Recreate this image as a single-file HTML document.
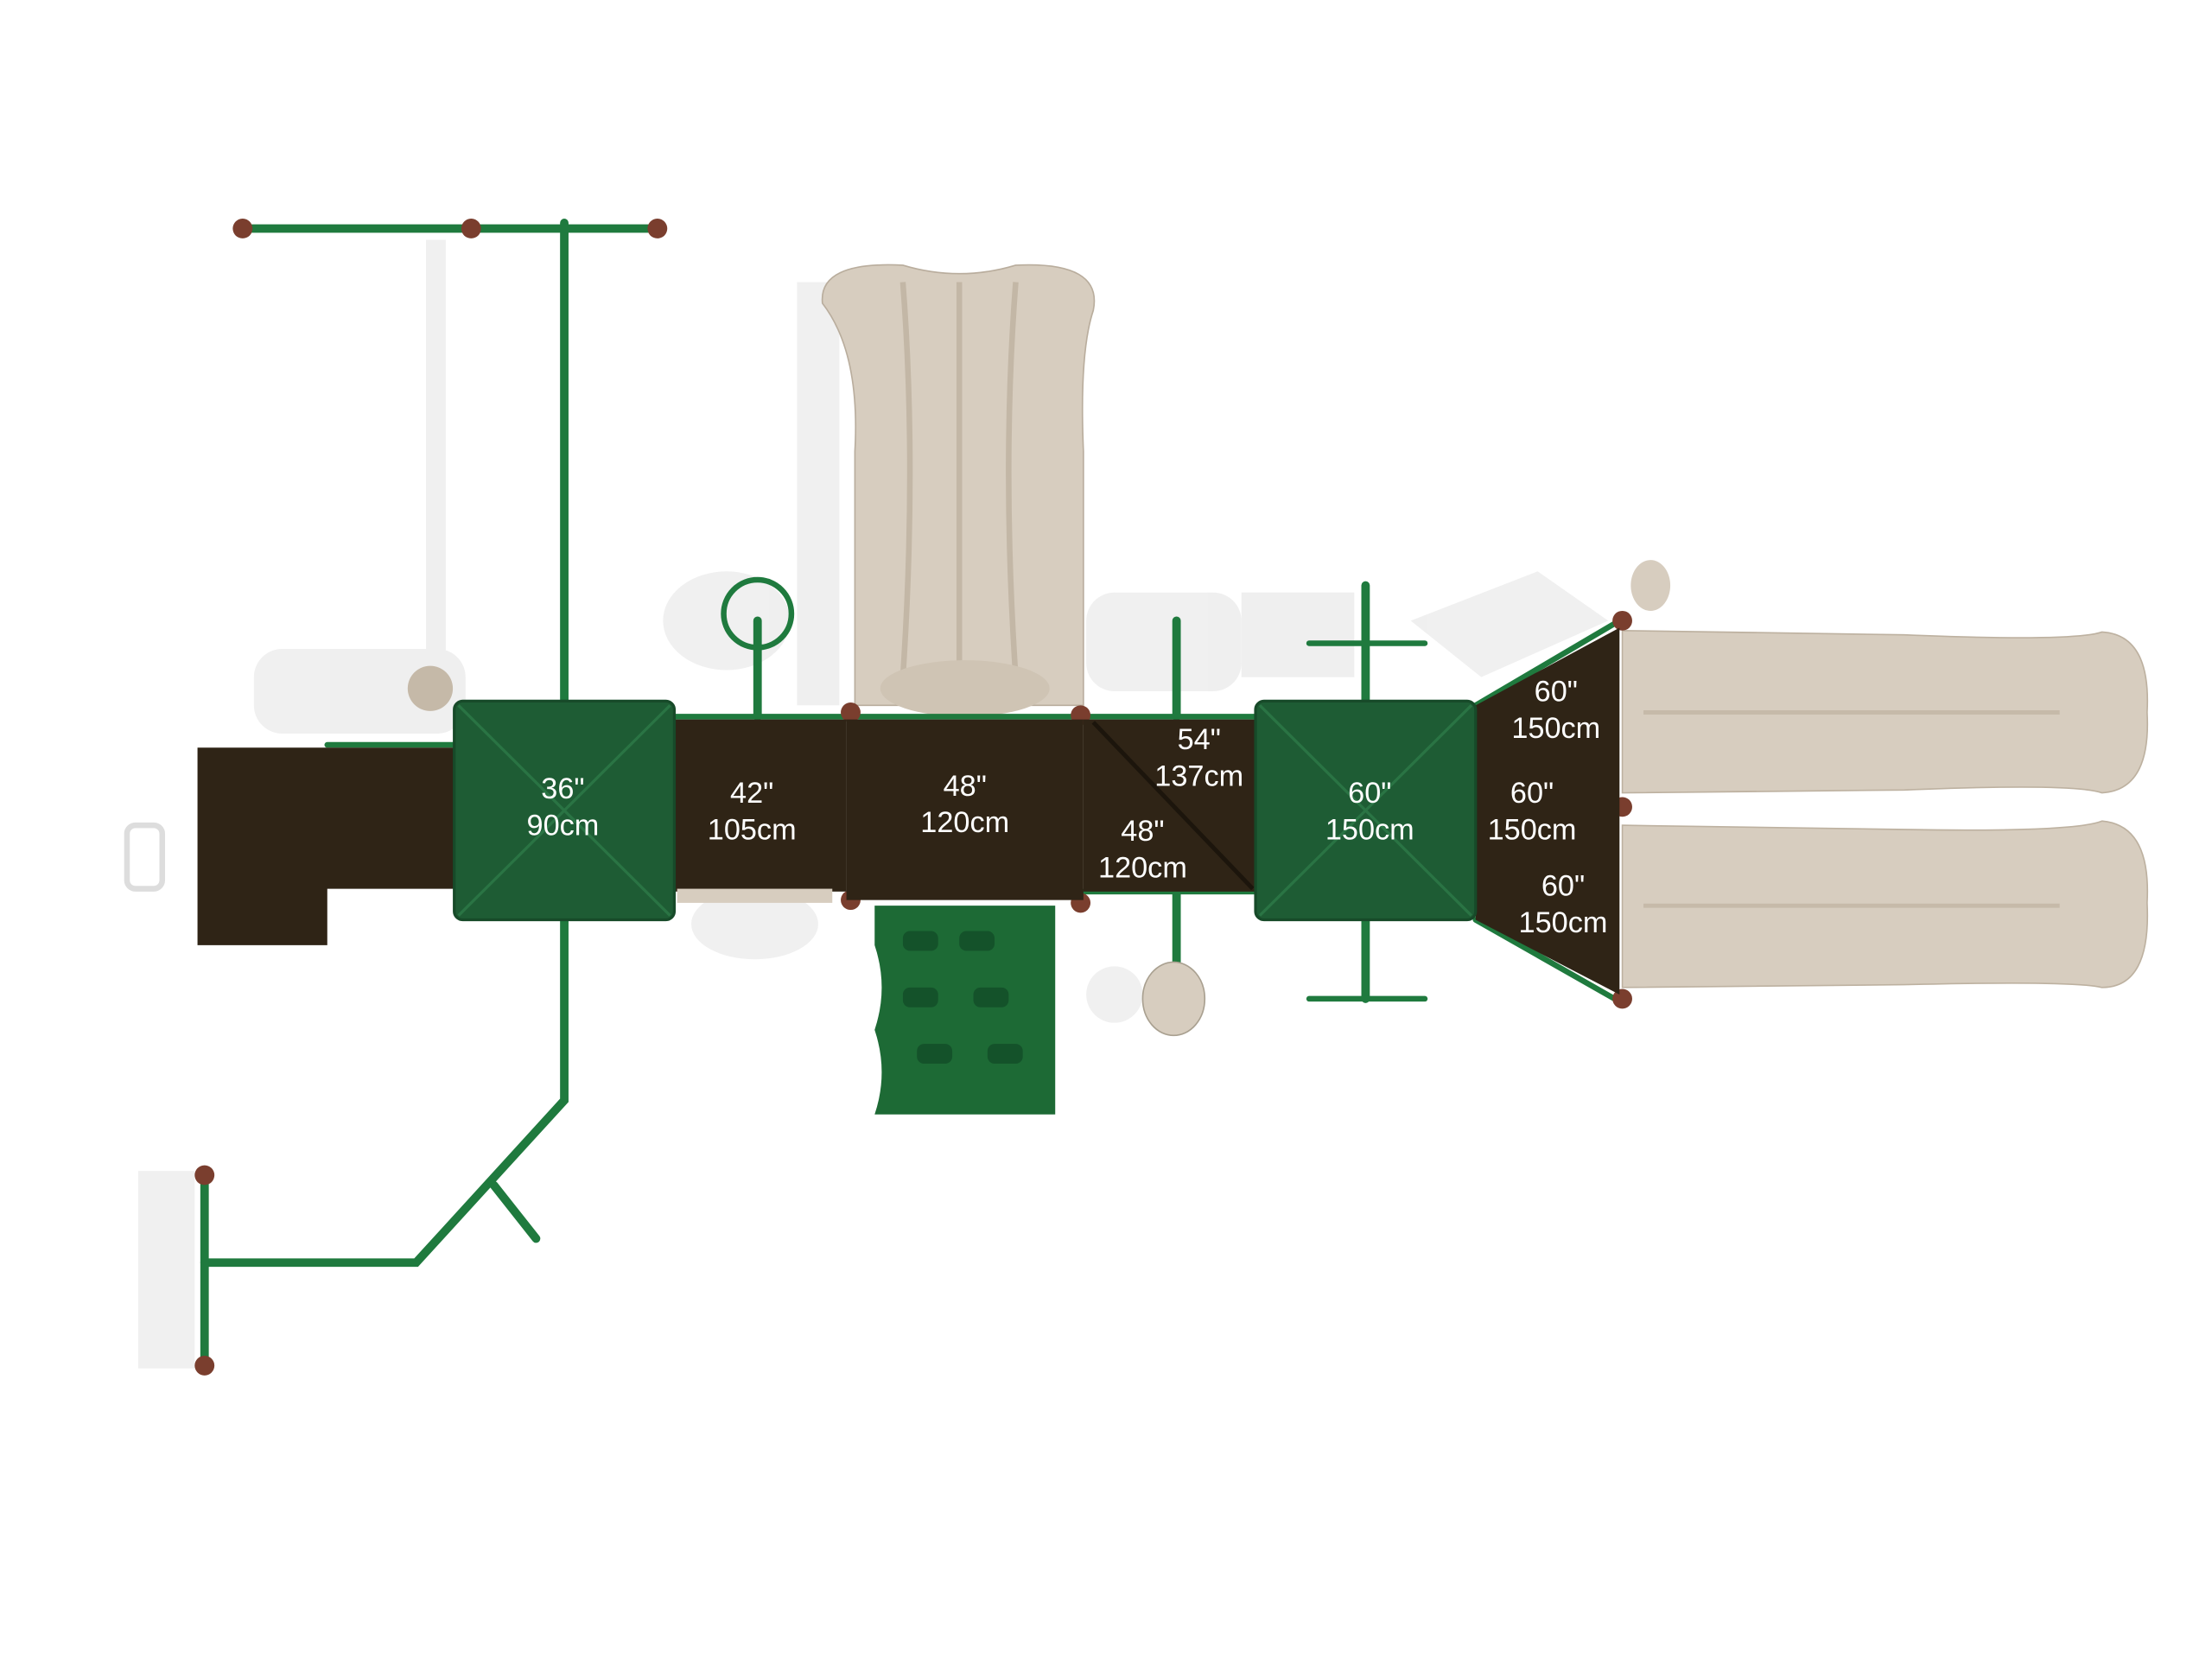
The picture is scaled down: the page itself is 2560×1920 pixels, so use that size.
<!DOCTYPE html>
<html><head><meta charset="utf-8"><style>
html,body{margin:0;padding:0;background:#fff;width:2560px;height:1920px;overflow:hidden}
svg{display:block}
text{font-family:"Liberation Sans","DejaVu Sans",sans-serif;fill:#fff;font-size:21px;text-anchor:middle}
</style></head><body>
<svg width="2560" height="1920" viewBox="0 0 1568 1176" xmlns="http://www.w3.org/2000/svg">
<!-- shadows -->
<g fill="#ececec" opacity="0.8">
<rect x="180" y="460" width="150" height="60" rx="20"/>
<ellipse cx="515" cy="440" rx="45" ry="35"/>
<rect x="565" y="200" width="30" height="300"/>
<rect x="770" y="420" width="110" height="70" rx="20"/>
<rect x="880" y="420" width="80" height="60"/>
<polygon points="1000,440 1090,405 1140,440 1050,480"/>
<rect x="302" y="170" width="14" height="330"/>
<rect x="98" y="830" width="40" height="140"/>
<ellipse cx="535" cy="655" rx="45" ry="25"/>
<ellipse cx="790" cy="705" rx="20" ry="20"/>
</g>
<!-- top slide -->
<path d="M583,215 Q580,185 640,188 Q680,200 720,188 Q782,185 775,220 Q765,250 768,320 L768,500 L606,500 L606,320 Q610,250 583,215Z" fill="#d7cdbf" stroke="#b9ad9d"/>
<path d="M640,200 Q650,330 640,480 M720,200 Q710,330 720,480 M680,200 L680,480" stroke="#c3b7a6" stroke-width="4" fill="none"/>
<ellipse cx="684" cy="488" rx="60" ry="20" fill="#cfc4b4"/>
<!-- right slides -->
<g fill="#d7cdbf" stroke="#bdb1a0">
<path d="M1150,447 L1350,450 Q1470,455 1490,448 Q1525,450 1522,505 Q1525,560 1490,562 Q1470,555 1350,560 L1150,562Z"/>
<path d="M1150,585 L1350,588 Q1470,590 1490,582 Q1525,585 1522,640 Q1525,700 1490,700 Q1470,695 1350,698 L1150,700Z"/>
</g>
<g stroke="#c6baa9" stroke-width="3"><line x1="1165" y1="505" x2="1460" y2="505"/><line x1="1165" y1="642" x2="1460" y2="642"/></g>
<!-- green pipes -->
<g stroke="#1f7a3e" stroke-width="6" fill="none" stroke-linecap="round">
<line x1="400" y1="158" x2="400" y2="497"/>
<line x1="172" y1="162" x2="468" y2="162"/>
<polyline points="400,652 400,780 295,895 145,895"/>
<line x1="145" y1="833" x2="145" y2="968"/>
<line x1="350" y1="840" x2="380" y2="878"/>
<line x1="537" y1="440" x2="537" y2="508"/>
<circle cx="537" cy="435" r="24" stroke-width="4"/>
<line x1="834" y1="440" x2="834" y2="508"/>
<line x1="834" y1="632" x2="834" y2="690"/>
<line x1="968" y1="415" x2="968" y2="497"/>
<line x1="928" y1="456" x2="1010" y2="456" stroke-width="4"/>
<line x1="968" y1="652" x2="968" y2="708"/>
<line x1="928" y1="708" x2="1010" y2="708" stroke-width="4"/>
<line x1="232" y1="528" x2="322" y2="528" stroke-width="4"/>
<line x1="610" y1="632" x2="890" y2="632" stroke-width="4"/>
<line x1="478" y1="508" x2="890" y2="508" stroke-width="4"/>
<line x1="1046" y1="500" x2="1148" y2="440" stroke-width="4"/>
<line x1="1046" y1="652" x2="1148" y2="710" stroke-width="4"/>
</g>
<g fill="#7a3e2e"><circle cx="172" cy="162" r="7"/><circle cx="334" cy="162" r="7"/><circle cx="466" cy="162" r="7"/><circle cx="145" cy="833" r="7"/><circle cx="145" cy="968" r="7"/><circle cx="603" cy="505" r="7"/><circle cx="766" cy="507" r="7"/><circle cx="603" cy="638" r="7"/><circle cx="766" cy="640" r="7"/><circle cx="1150" cy="440" r="7"/><circle cx="1150" cy="572" r="7"/><circle cx="1150" cy="708" r="7"/></g>
<circle cx="305" cy="488" r="16" fill="#c5b9a8"/>
<ellipse cx="1170" cy="415" rx="14" ry="18" fill="#d7cdbf"/>
<ellipse cx="832" cy="708" rx="22" ry="26" fill="#d7cdbf" stroke="#a9a090"/>
<rect x="90" y="585" width="25" height="45" rx="6" fill="none" stroke="#ddd" stroke-width="4"/>
<!-- decks -->
<g fill="#2f2416">
<path d="M140,530 L322,530 L322,630 L232,630 L232,670 L140,670Z"/>
<rect x="478" y="510" width="122" height="122"/>
<rect x="600" y="510" width="168" height="128"/>
<rect x="768" y="510" width="122" height="122"/>
<polygon points="1046,500 1148,445 1148,705 1046,652"/>
</g>
<line x1="775" y1="512" x2="888" y2="630" stroke="#1c150c" stroke-width="3"/>
<rect x="480" y="630" width="110" height="10" fill="#d7cdbf"/>
<!-- climbing wall -->
<path d="M620,642 L748,642 L748,790 L620,790 Q630,760 620,730 Q630,700 620,670Z" fill="#1d6a35"/>
<g fill="#14522a"><rect x="640" y="660" width="25" height="14" rx="5"/><rect x="680" y="660" width="25" height="14" rx="5"/><rect x="640" y="700" width="25" height="14" rx="5"/><rect x="690" y="700" width="25" height="14" rx="5"/><rect x="650" y="740" width="25" height="14" rx="5"/><rect x="700" y="740" width="25" height="14" rx="5"/></g>
<!-- roofs -->
<g fill="#1e5c34" stroke="#174a29" stroke-width="2">
<rect x="322" y="497" width="156" height="155" rx="6"/>
<rect x="890" y="497" width="156" height="155" rx="6"/>
</g>
<g stroke="#2a7444" stroke-width="2"><line x1="325" y1="500" x2="475" y2="649"/><line x1="475" y1="500" x2="325" y2="649"/><line x1="893" y1="500" x2="1043" y2="649"/><line x1="1043" y1="500" x2="893" y2="649"/></g>
<!-- labels -->
<text x="399" y="566">36"</text><text x="399" y="592">90cm</text>
<text x="533" y="569">42"</text><text x="533" y="595">105cm</text>
<text x="684" y="564">48"</text><text x="684" y="590">120cm</text>
<text x="850" y="531">54"</text><text x="850" y="557">137cm</text>
<text x="810" y="596">48"</text><text x="810" y="622">120cm</text>
<text x="971" y="569">60"</text><text x="971" y="595">150cm</text>
<text x="1103" y="497">60"</text><text x="1103" y="523">150cm</text>
<text x="1086" y="569">60"</text><text x="1086" y="595">150cm</text>
<text x="1108" y="635">60"</text><text x="1108" y="661">150cm</text>
</svg>
</body></html>
